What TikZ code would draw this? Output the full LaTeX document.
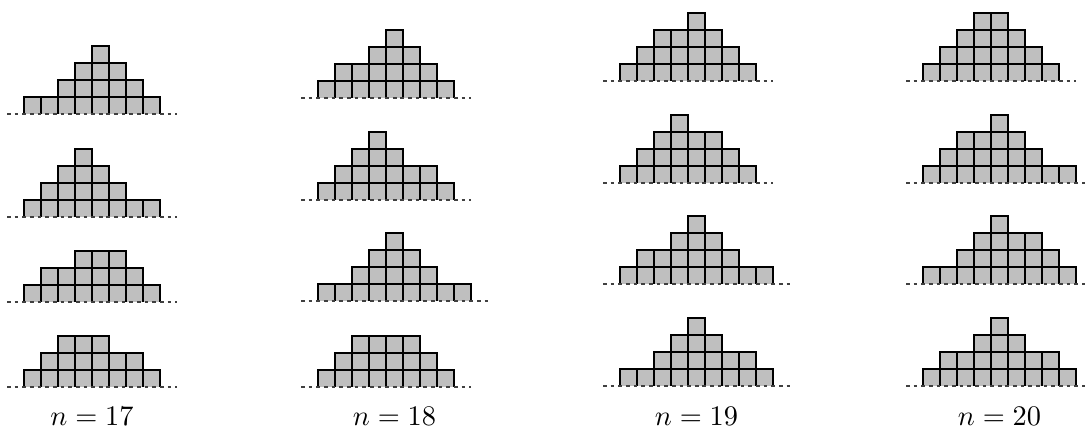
\documentclass[tikz,border=0pt]{standalone}
\usetikzlibrary{calc}
\tikzset{
  cellfill/.style={fill=black!25},
  cellline/.style={draw=black,line width=0.5pt,line join=miter},
  baseln/.style={draw=black!75,line width=0.4pt,dash pattern=on 1.3pt off 1.4pt},
  lab/.style={anchor=base,inner sep=0pt}
}
% #1 left x, #2 baseline y, #3 number of columns, #4 heights
\newcommand\mypile[4]{%
  \foreach \h [count=\i] in {#4}{%
    \pgfmathsetmacro\xl{#1+17*(\i-1)}%
    \foreach \j in {1,...,\h}{%
      \pgfmathsetmacro\yb{#2-17*(\j-1)}%
      \fill[cellfill] (\xl,\yb) rectangle ++(17,-17);
    }%
  }%
  \foreach \h [count=\i] in {#4}{%
    \pgfmathsetmacro\xl{#1+17*(\i-1)}%
    \foreach \j in {1,...,\h}{%
      \pgfmathsetmacro\yb{#2-17*(\j-1)}%
      \draw[cellline] (\xl,\yb) -- ++(0,-17) -- ++(17,0) -- ++(0,17);
    }%
  }%
  \draw[baseln] ({#1-17},#2) -- ({#1+17*(#3+1)},#2);
}
\begin{document}
\begin{tikzpicture}[x={(0.3528pt,0)},y={(0,-0.3528pt)}]
\useasboundingbox (0,0) rectangle (1085,430);
\begin{scope}
\clip (0,0) rectangle (1085,430);
% n = 17
\mypile{24}{114}{8}{1,1,2,3,4,3,2,1}
\mypile{24}{217}{8}{1,2,3,4,3,2,1,1}
\mypile{24}{302}{8}{1,2,2,3,3,3,2,1}
\mypile{24}{387}{8}{1,2,3,3,3,2,2,1}
% n = 18
\mypile{318}{98}{8}{1,2,2,3,4,3,2,1}
\mypile{318}{200}{8}{1,2,3,4,3,2,2,1}
\mypile{318}{301}{9}{1,1,2,3,4,3,2,1,1}
\mypile{318}{387}{8}{1,2,3,3,3,3,2,1}
% n = 19
\mypile{620}{81}{8}{1,2,3,3,4,3,2,1}
\mypile{620}{183}{8}{1,2,3,4,3,3,2,1}
\mypile{620}{284}{9}{1,2,2,3,4,3,2,1,1}
\mypile{620}{386}{9}{1,1,2,3,4,3,2,2,1}
% n = 20
\mypile{923}{81}{8}{1,2,3,4,4,3,2,1}
\mypile{923}{183}{9}{1,2,3,3,4,3,2,1,1}
\mypile{923}{284}{9}{1,1,2,3,4,3,3,2,1}
\mypile{923}{386}{9}{1,2,2,3,4,3,2,2,1}
\end{scope}
\node[lab] (l17) at (92,425) {$n=17$};
\node[lab] (l18) at (394.5,425) {$n=18$};
\node[lab] (l19) at (696.5,425) {$n=19$};
\node[lab] (l20) at (999.5,425) {$n=20$};
\end{tikzpicture}
\end{document}
